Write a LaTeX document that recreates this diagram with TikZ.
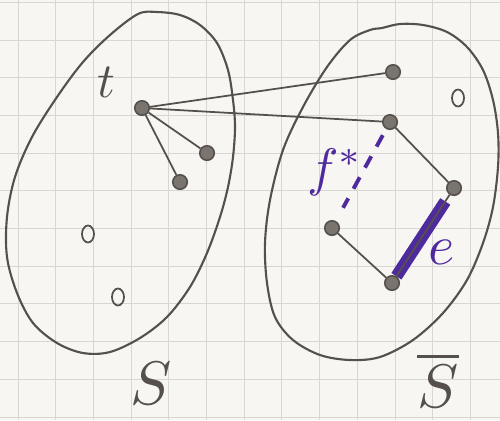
\documentclass[tikz,border=0pt]{standalone}
\usepackage{graphicx}
\usetikzlibrary{shapes.geometric}
\definecolor{paper}{HTML}{F7F6F2}
\definecolor{gridc}{HTML}{D6D6D3}
\definecolor{pencil}{HTML}{55504B}
\definecolor{dotc}{HTML}{7A746E}
\definecolor{ink}{HTML}{4F2A9E}
\begin{document}
\begin{tikzpicture}[x=0.02cm,y=-0.02cm,
  vtx/.style={circle,fill=dotc,draw=pencil,line width=0.9pt,minimum size=0.29cm,inner sep=0pt},
  iso/.style={ellipse,draw=pencil,line width=1pt,minimum width=0.24cm,minimum height=0.34cm,inner sep=0pt},
  edge/.style={draw=pencil,line width=1pt},
  blob/.style={draw=pencil,line width=1.2pt},
  lbl/.style={text=pencil,inner sep=0pt},
  inklbl/.style={text=ink,inner sep=0pt},
]
\fill[paper] (0,0) rectangle (500,420);
\useasboundingbox (0,0) rectangle (500,420);
\foreach \k in {0,...,12} \draw[gridc,line width=0.5pt] ({18+37.7*\k},0) -- ++(0,420);
\foreach \k in {-1,...,10} \draw[gridc,line width=0.5pt] (0,{40+37.7*\k}) -- ++(500,0);
% sets
\draw[blob] plot[smooth cycle, tension=0.55] coordinates {(138,14) (157,12) (180,15) (200,25) (217,43) (228,70) (233,100) (235,127) (233,157) (228,187) (220,217) (207,253) (190,287) (167,317) (140,338) (110,352) (83,353) (57,343) (33,323) (17,293) (7,257) (7,217) (15,177) (32,137) (57,97) (83,62) (110,35)};
\draw[blob] plot[smooth cycle, tension=0.55] coordinates {(382,28) (400,24) (423,25) (447,32) (467,47) (483,70) (493,100) (498,133) (498,167) (493,207) (483,243) (467,280) (443,313) (413,340) (380,357) (350,360) (320,355) (293,340) (275,317) (267,283) (265,243) (270,200) (283,150) (303,107) (327,67) (350,40) (370,30)};
% vertices
\node[vtx] (t) at (142,108) {};
\node[vtx] (l1) at (207,153) {};
\node[vtx] (l2) at (180,182) {};
\node[iso] (o1) at (88,234) {};
\node[iso] (o2) at (118,297) {};
\node[vtx] (a) at (393,72) {};
\node[vtx] (b) at (390,122) {};
\node[vtx] (c) at (454,188) {};
\node[vtx] (d) at (332,228) {};
\node[vtx] (e) at (392,283) {};
\node[iso] (o3) at (458,98) {};
% edges
\draw[edge] (t) -- (a);
\draw[edge] (t) -- (b);
\draw[edge] (t) -- (l1);
\draw[edge] (t) -- (l2);
\draw[edge] (b) -- (c);
\draw[edge] (d) -- (e);
\draw[ink,line width=0.24cm,shorten <=0.16cm] (c) -- (e);
\draw[edge] (c) -- (e);
\draw[ink,line width=2.2pt,dash pattern=on 0.26cm off 0.22cm,shorten <=0.14cm,shorten >=0.3cm] (b) -- (d);
% labels
\node[lbl] (tl) at (106,82) {\scalebox{2.8}{$t$}};
\node[lbl] (sl) at (151,383) {\scalebox{3.5}{$S$}};
\node[lbl] (sbl) at (438,380) {\scalebox{3.5}{$\overline{S}$}};
\node[inklbl] (fl) at (335,172) {\scalebox{3.0}{$f^*$}};
\node[inklbl] (el) at (442,252) {\scalebox{3.2}{$e$}};
\end{tikzpicture}
\end{document}
